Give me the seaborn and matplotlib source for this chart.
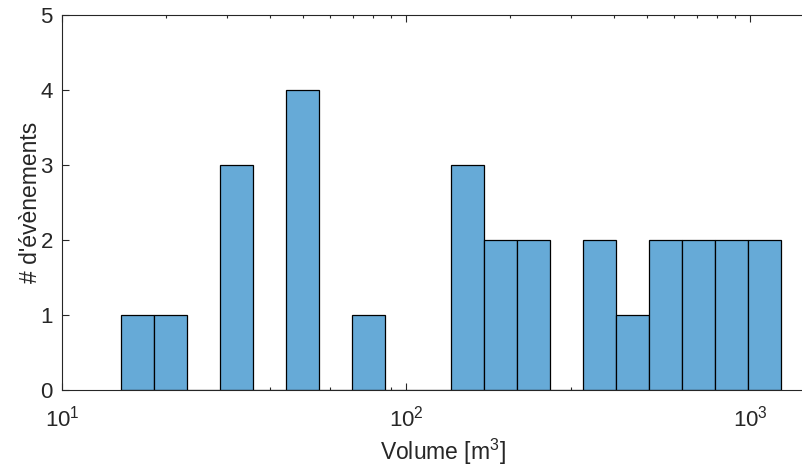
import numpy as np
import pandas as pd
import matplotlib
matplotlib.use("Agg")
import matplotlib.pyplot as plt
import seaborn as sns

# histogram: 20 log-spaced bins
counts = [1, 1, 0, 3, 0, 4, 0, 1, 0, 0, 3, 2, 2, 0, 2, 1, 2, 2, 2, 2]
log_first_edge = 1.169
log_bin_width = 0.096
n_bins = len(counts)

edges = np.logspace(log_first_edge, log_first_edge + n_bins * log_bin_width, n_bins + 1)
centers = np.sqrt(edges[:-1] * edges[1:])
df = pd.DataFrame({"volume": centers, "n": counts})

sns.set_style("ticks")
plt.rcParams['font.family'] = ['Liberation Sans', 'DejaVu Sans']
plt.rcParams['mathtext.default'] = 'regular'

grey = '#262626'
fig = plt.figure(figsize=(8.02, 4.70), dpi=100)
ax = fig.add_axes([0.0779, 0.170, 0.95, 0.798])

sns.histplot(data=df, x="volume", weights="n", bins=list(edges), ax=ax,
             color='#66AAD7', alpha=1, edgecolor='black', linewidth=0.9)
ax.set_xscale('log')
ax.set_xlim(10, 10 ** 3.2148)
ax.set_ylim(0, 5)
ax.set_yticks([0, 1, 2, 3, 4, 5])

ax.set_xlabel('Volume [m$^3$]', fontsize=16.5, color=grey, labelpad=4)
ax.set_ylabel("# d'évènements", fontsize=16.5, color=grey, labelpad=-1)

for s in ['left', 'bottom', 'top']:
    ax.spines[s].set_visible(True)
    ax.spines[s].set_color(grey)
    ax.spines[s].set_linewidth(0.8)
ax.spines['right'].set_visible(False)

ax.tick_params(which='both', direction='in', top=True, right=False,
               colors=grey, labelsize=16, width=0.8)
ax.tick_params(which='major', length=5)
ax.tick_params(which='minor', length=2.5)
ax.tick_params(axis='x', which='major', pad=11)
ax.tick_params(axis='y', which='major', pad=7)

fig.savefig('out.png', dpi=100)
